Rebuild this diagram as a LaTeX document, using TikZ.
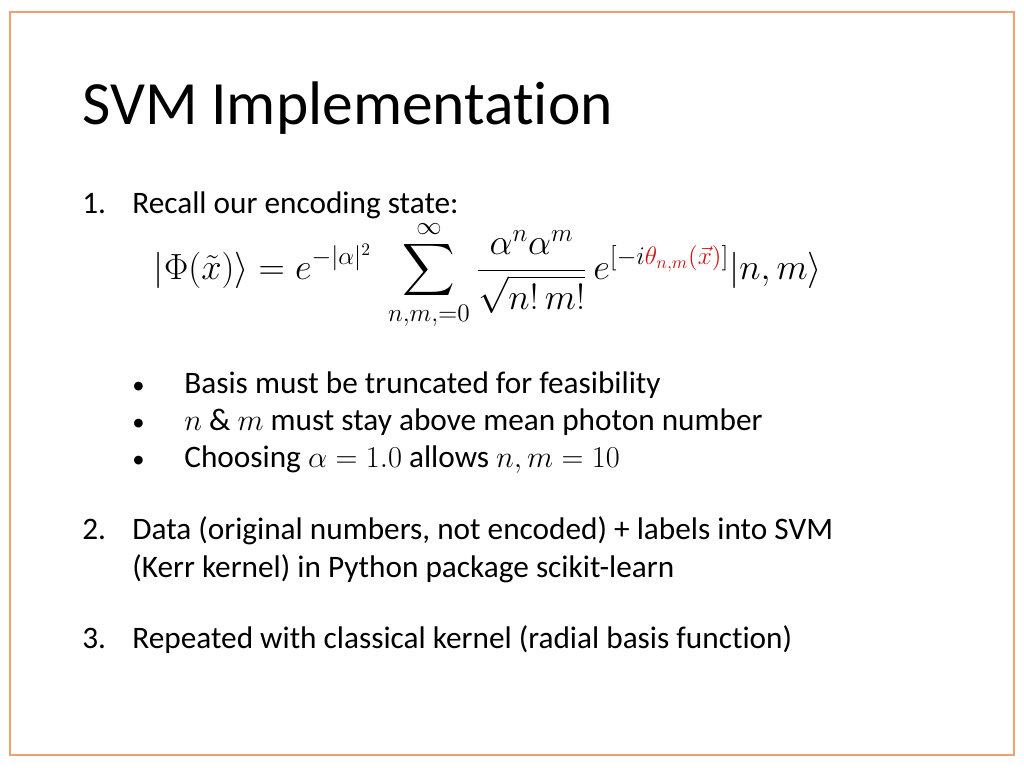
\documentclass[tikz,border=0pt]{standalone}
\usepackage{amsmath}
\usepackage{fontspec}
\setmainfont{Carlito}[Ligatures={NoCommon}]
\definecolor{frame}{RGB}{240,160,110}
\definecolor{thetared}{RGB}{200,20,20}
\tikzset{
  body/.style={anchor=base west, inner sep=0pt, font=\fontsize{17.8}{21}\selectfont},
}
\begin{document}
\begin{tikzpicture}[x=0.02cm, y=-0.02cm]
    \useasboundingbox (0, 0) rectangle (1024, 768);
    \draw[frame, line width=0.8pt] (10, 12) rectangle (1014, 755);
    \node[anchor=base west, inner sep=0pt, font=\fontsize{35}{40}\selectfont] (title) at (82, 124) {SVM Implementation};
    % item 1
    \node[body] (n1) at (82, 213) {1.};
    \node[body] (recall) at (132, 213) {Recall our encoding state:};
    \node[inner sep=0pt, font=\fontsize{19.7}{23}\selectfont] (state) at (488, 275)
      {$\displaystyle |\Phi(\tilde{x})\rangle = e^{-|\alpha|^2}\;\sum_{n,m,=0}^{\infty}\frac{\alpha^n\alpha^m}{\sqrt{n!\,m!}}\,e^{\left[-i\textcolor{thetared}{\theta_{n,m}(\vec{x})}\right]}|n,m\rangle$};
    % bullets
    \node[body, font=\fontsize{14}{17}\selectfont] (b1) at (132, 393) {\textbullet};
    \node[body] (basis) at (184, 393) {Basis must be truncated for feasibility};
    \node[body, font=\fontsize{14}{17}\selectfont] (b2) at (132, 430) {\textbullet};
    \node[body] (photon) at (184, 430) {$n$ \& $m$ must stay above mean photon number};
    \node[body, font=\fontsize{14}{17}\selectfont] (b3) at (132, 467) {\textbullet};
    \node[body] (choose) at (184, 467) {Choosing $\alpha = 1.0$ allows $n, m = 10$};
    % item 2
    \node[body] (n2) at (82, 539) {2.};
    \node[body] (data) at (132, 539) {Data (original numbers, not encoded) + labels into SVM};
    \node[body] (kerr) at (132, 577) {(Kerr kernel) in Python package scikit-learn};
    % item 3
    \node[body] (n3) at (82, 648) {3.};
    \node[body] (rbf) at (132, 648) {Repeated with classical kernel (radial basis function)};
\end{tikzpicture}
\end{document}
